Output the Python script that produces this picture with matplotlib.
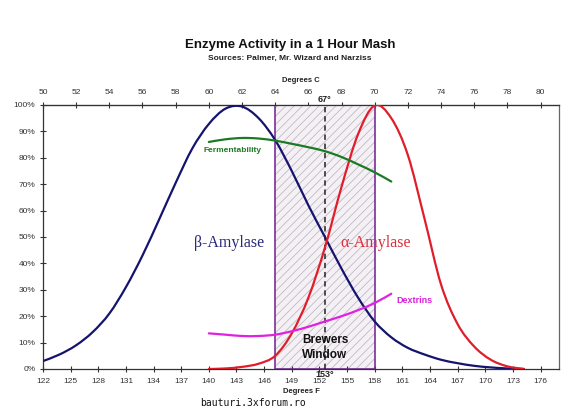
import numpy as np
import matplotlib
matplotlib.use("Agg")
import matplotlib.pyplot as plt
from matplotlib.path import Path
from matplotlib.patches import PathPatch
from matplotlib.transforms import blended_transform_factory

# ---------------- data ----------------
beta_c = list(range(50, 80))
beta_pct = [3, 5.5, 9, 14, 21, 31, 43, 56.6, 70.5, 83.5, 92.8, 98.6, 99.4, 95, 86.7,
            75, 62, 50, 38, 27, 18, 12, 8, 5.5, 3.5, 2.2, 1.2, 0.6, 0.2, 0]

alpha_c = list(range(60, 80))
alpha_pct = [0, 0.2, 0.8, 2, 5, 13.5, 27, 46, 69, 89, 99.8, 95, 81, 57, 32, 17, 8.5, 3.5, 1, 0]

ferm_c = list(range(60, 72))
ferm_pct = [86, 87, 87.5, 87.3, 86.5, 85.3, 84, 82.5, 80.3, 77.5, 74.5, 71]

dextrin_c = list(range(60, 72))
dextrin_pct = [13.5, 13, 12.5, 12.5, 13, 14.3, 16, 18, 20, 22.3, 25, 28.5]

window_c = [64, 70]
mark_c = 67

f_ticks = list(range(122, 177, 3))
c_ticks = list(range(50, 81, 2))
y_ticks = list(range(0, 101, 10))


def c2f(c):
    return np.asarray(c, dtype=float) * 1.8 + 32


def f2c(f):
    return (np.asarray(f, dtype=float) - 32) / 1.8


def smooth_line(ax, xs, ys, color, lw):
    """Excel-style smoothed line: Catmull-Rom rendered as cubic Bezier path."""
    x = np.asarray(xs, float)
    y = np.asarray(ys, float)
    n = len(x)
    verts = [(x[0], y[0])]
    codes = [Path.MOVETO]
    for i in range(n - 1):
        x0, y0 = (x[i - 1], y[i - 1]) if i > 0 else (x[i], y[i])
        x3, y3 = (x[i + 2], y[i + 2]) if i + 2 < n else (x[i + 1], y[i + 1])
        c1 = (x[i] + (x[i + 1] - x0) / 6.0, y[i] + (y[i + 1] - y0) / 6.0)
        c2 = (x[i + 1] - (x3 - x[i]) / 6.0, y[i + 1] - (y3 - y[i]) / 6.0)
        verts += [c1, c2, (x[i + 1], y[i + 1])]
        codes += [Path.CURVE4] * 3
    patch = PathPatch(Path(verts, codes), facecolor='none', edgecolor=color,
                      linewidth=lw, zorder=4, capstyle='round', joinstyle='round')
    ax.add_patch(patch)


plt.rcParams['font.family'] = ['Liberation Sans', 'DejaVu Sans']

fig = plt.figure(figsize=(5.8, 4.09), dpi=100)
ax = fig.add_axes([0.0741, 0.0978, 0.8897, 0.6455])

# Brewers window
wx0, wx1 = c2f(window_c[0]), c2f(window_c[1])
plt.rcParams['hatch.linewidth'] = 0.6
ax.axvspan(wx0, wx1, ymin=0, ymax=1, facecolor='#f5f0f6', edgecolor='#bdbdbd',
           hatch='////', linewidth=0, zorder=1)
ax.axvspan(wx0, wx1, ymin=0, ymax=1, facecolor='none', edgecolor='#7a2e9a',
           linewidth=1.2, zorder=2)

# dashed marker
mf = float(c2f(mark_c))
ax.axvline(mf, color='#222222', linestyle=(0, (3.5, 2.5)), linewidth=1.1, zorder=3)

# curves
smooth_line(ax, c2f(beta_c), beta_pct, '#14146e', 1.6)
smooth_line(ax, c2f(alpha_c), alpha_pct, '#e01e2a', 1.6)
smooth_line(ax, c2f(ferm_c), ferm_pct, '#1c7a24', 1.6)
smooth_line(ax, c2f(dextrin_c), dextrin_pct, '#e022e0', 1.6)

ax.set_xlim(122, 178)
ax.set_ylim(0, 100)

ax.set_xticks(f_ticks)
ax.set_xticklabels([str(t) for t in f_ticks])
ax.set_yticks(y_ticks)
ax.set_yticklabels([f"{t}%" for t in y_ticks])
ax.tick_params(axis='both', direction='inout', length=5, width=0.8, labelsize=6,
               labelcolor='#333333', color='#333333', pad=3)
ax.tick_params(axis='x', pad=4)

for s in ['left', 'bottom', 'top']:
    ax.spines[s].set_color('#333333')
    ax.spines[s].set_linewidth(0.9)
ax.spines['right'].set_color('#666666')
ax.spines['right'].set_linewidth(0.9)

secax = ax.secondary_xaxis('top', functions=(f2c, c2f))
secax.set_xticks(c_ticks)
secax.set_xticklabels([str(t) for t in c_ticks])
secax.tick_params(direction='inout', length=5, width=0.8, labelsize=6,
                  labelcolor='#333333', color='#333333', pad=4)
secax.spines['top'].set_color('#333333')

# labels
ax.text(142.2, 47.7, "β-Amylase", family=['Liberation Serif', 'DejaVu Serif'],
        fontsize=11.5, color='#2a2a7a', ha='center', va='center', zorder=5)
ax.text(158.1, 47.7, "α-Amylase", family=['Liberation Serif', 'DejaVu Serif'],
        fontsize=11.5, color='#d8303c', ha='center', va='center', zorder=5)
ax.text(139.4, 82.6, "Fermentability", fontsize=6, fontweight='bold',
        color='#1c7a24', ha='left', va='center', zorder=5)
ax.text(160.3, 26, "Dextrins", fontsize=6.5, fontweight='bold',
        color='#d822d8', ha='left', va='center', zorder=5)
ax.text(mf, 8.3, "Brewers\nWindow", fontsize=8.5, fontweight='bold',
        color='#111111', ha='center', va='center', linespacing=1.35, zorder=5)

tr = blended_transform_factory(ax.transData, ax.transAxes)
ax.text(mf, 1.005, "67°", transform=tr, fontsize=6.5, fontweight='bold',
        color='#222222', ha='center', va='bottom', zorder=6)
ax.text(mf, -0.005, "153°", transform=tr, fontsize=6.5, fontweight='bold',
        color='#222222', ha='center', va='top', zorder=6)

fig.text(0.5, 0.89, "Enzyme Activity in a 1 Hour Mash", fontsize=9.5,
         fontweight='bold', ha='center', va='center', color='#111111')
fig.text(0.5, 0.858, "Sources: Palmer, Mr. Wizard and Narziss", fontsize=6,
         fontweight='bold', ha='center', va='center', color='#222222')
fig.text(0.519, 0.804, "Degrees C", fontsize=5.5, fontweight='bold',
         ha='center', va='center', color='#222222')
fig.text(0.519, 0.042, "Degrees F", fontsize=5.5, fontweight='bold',
         ha='center', va='center', color='#222222')
fig.text(0.345, 0.015, "bauturi.3xforum.ro", family=['DejaVu Sans Mono'],
         fontsize=7, ha='left', va='center', color='#111111')

fig.savefig("out.png", dpi=100, facecolor='white')
